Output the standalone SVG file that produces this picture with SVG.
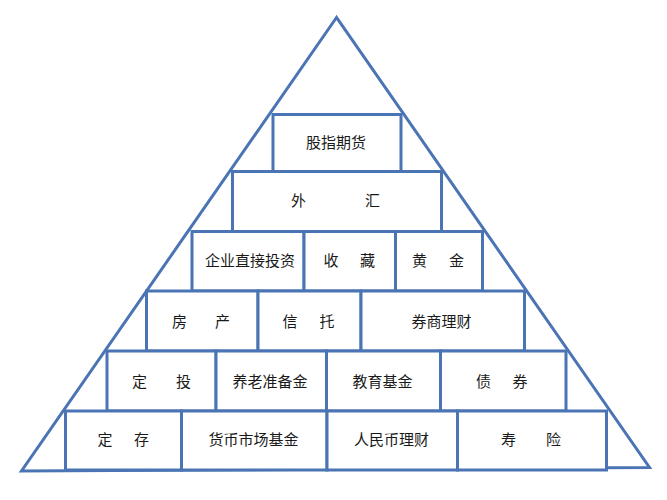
<svg xmlns="http://www.w3.org/2000/svg" width="667" height="500" viewBox="0 0 667 500">
<style>
.box{fill:#ffffff;stroke:#4A74B3;stroke-width:3}
.tri{fill:none;stroke:#4A74B3;stroke-width:3;stroke-linejoin:miter}
text{font-family:"Liberation Serif","Noto Sans CJK SC",serif;font-size:15px;fill:#1a1a1a;text-anchor:middle;dominant-baseline:central}
</style>
<rect width="667" height="500" fill="#ffffff"/>
<g id="pyramid-outline">
<polygon class="tri" points="336.5,17.5 21.5,471 649.5,467.5"/>
</g>
<g id="connectors"></g>
<g id="row1">
<g id="n-guzhiqihuo"><rect class="box" x="273" y="114.5" width="128" height="57"/><text x="336" y="143">股指期货</text></g>
</g>
<g id="row2">
<g id="n-waihui"><rect class="box" x="232.5" y="171.5" width="209" height="60"/><text y="201"><tspan x="298.5">外</tspan><tspan x="372.5">汇</tspan></text></g>
</g>
<g id="row3">
<g id="n-qiye"><rect class="box" x="192" y="231.5" width="112" height="59.5"/><text x="250" y="261">企业直接投资</text></g>
<g id="n-shoucang"><rect class="box" x="304" y="231.5" width="91.5" height="59.5"/><text y="261"><tspan x="331">收</tspan><tspan x="367.5">藏</tspan></text></g>
<g id="n-huangjin"><rect class="box" x="395.5" y="231.5" width="87" height="59.5"/><text y="261"><tspan x="419.5">黄</tspan><tspan x="456.5">金</tspan></text></g>
</g>
<g id="row4">
<g id="n-fangchan"><rect class="box" x="146.5" y="291" width="111.5" height="60"/><text y="321.5"><tspan x="179.5">房</tspan><tspan x="222.5">产</tspan></text></g>
<g id="n-xintuo"><rect class="box" x="258" y="291" width="103" height="60"/><text y="321.5"><tspan x="290">信</tspan><tspan x="327">托</tspan></text></g>
<g id="n-quanshang"><rect class="box" x="361" y="291" width="163.5" height="60"/><text x="441.5" y="321.5">券商理财</text></g>
</g>
<g id="row5">
<g id="n-dingtou"><rect class="box" x="107" y="351" width="109" height="60"/><text y="381.5"><tspan x="139.5">定</tspan><tspan x="183.5">投</tspan></text></g>
<g id="n-yanglao"><rect class="box" x="216" y="351" width="110.5" height="60"/><text x="270" y="381.5">养老准备金</text></g>
<g id="n-jiaoyu"><rect class="box" x="326.5" y="351" width="114" height="60"/><text x="382.5" y="381.5">教育基金</text></g>
<g id="n-zhaiquan"><rect class="box" x="440.5" y="351" width="125.5" height="60"/><text y="381.5"><tspan x="483.5">债</tspan><tspan x="520">券</tspan></text></g>
</g>
<g id="row6">
<g id="n-dingcun"><rect class="box" x="65.5" y="411" width="116" height="59"/><text y="440"><tspan x="105">定</tspan><tspan x="141.5">存</tspan></text></g>
<g id="n-huobi"><rect class="box" x="181.5" y="411" width="145.5" height="59"/><text x="253.5" y="440">货币市场基金</text></g>
<g id="n-renminbi"><rect class="box" x="327" y="411" width="130.5" height="59"/><text x="391.5" y="440">人民币理财</text></g>
<g id="n-shouxian"><rect class="box" x="457.5" y="411" width="149" height="59"/><text y="440"><tspan x="508.5">寿</tspan><tspan x="553.5">险</tspan></text></g>
</g>
</svg>
